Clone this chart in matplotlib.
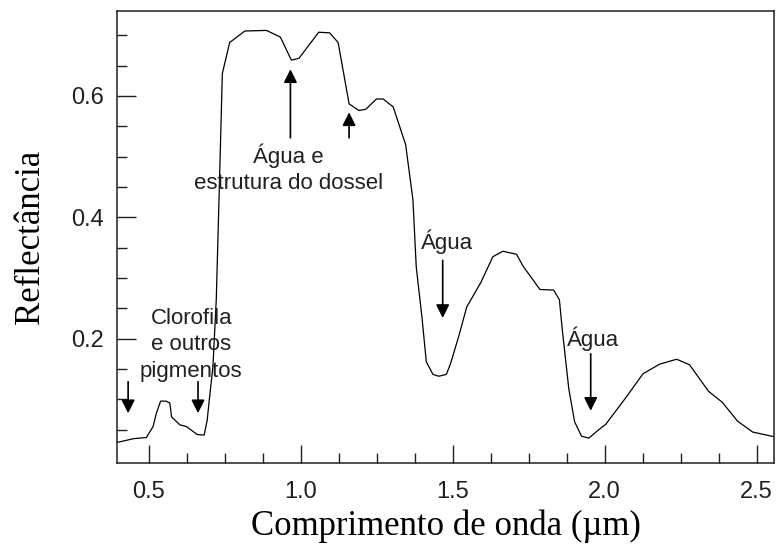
import matplotlib
matplotlib.use("Agg")
import matplotlib.pyplot as plt
import numpy as np

# reflectance curve
wavelength = [0.397, 0.449, 0.492, 0.514, 0.525, 0.539, 0.556, 0.569, 0.575, 0.602,
              0.624, 0.659, 0.682, 0.692, 0.698, 0.711, 0.722, 0.731, 0.742, 0.766,
              0.816, 0.887, 0.933, 0.969, 0.994, 1.059, 1.095, 1.123, 1.159, 1.191,
              1.214, 1.249, 1.271, 1.304, 1.345, 1.369, 1.380, 1.399, 1.413, 1.435,
              1.454, 1.479, 1.493, 1.521, 1.546, 1.593, 1.632, 1.665, 1.710, 1.732,
              1.787, 1.832, 1.851, 1.860, 1.882, 1.901, 1.924, 1.948, 1.976, 2.004,
              2.070, 2.126, 2.181, 2.237, 2.279, 2.342, 2.387, 2.437, 2.487, 2.560]
reflect = [0.029, 0.035, 0.037, 0.055, 0.077, 0.097, 0.097, 0.094, 0.071, 0.058,
           0.055, 0.042, 0.041, 0.065, 0.094, 0.154, 0.264, 0.429, 0.637, 0.688,
           0.707, 0.708, 0.697, 0.659, 0.662, 0.705, 0.704, 0.688, 0.587, 0.576,
           0.578, 0.595, 0.595, 0.582, 0.520, 0.429, 0.318, 0.234, 0.162, 0.141,
           0.138, 0.141, 0.159, 0.206, 0.252, 0.293, 0.335, 0.344, 0.339, 0.319,
           0.281, 0.280, 0.264, 0.217, 0.117, 0.063, 0.039, 0.036, 0.048, 0.059,
           0.103, 0.142, 0.158, 0.166, 0.157, 0.113, 0.095, 0.064, 0.046, 0.038]

x_major = [0.5, 1.0, 1.5, 2.0, 2.5]
x_labels = ["0.5", "1.0", "1.5", "2.0", "2.5"]
y_major = [0.2, 0.4, 0.6]
y_labels = ["0.2", "0.4", "0.6"]

# annotations: text, text position, arrow start, arrow end
notes = [
    ("Clorofila\ne outros\npigmentos", (0.640, 0.190), None, None),
    ("", None, (0.432, 0.129), (0.432, 0.077)),
    ("", None, (0.662, 0.129), (0.662, 0.077)),
    ("Água e\nestrutura do dossel", (0.960, 0.480), (0.966, 0.531), (0.966, 0.644)),
    ("", None, (1.159, 0.531), (1.159, 0.573)),
    ("Água", (1.481, 0.360), (1.467, 0.329), (1.467, 0.234)),
    ("Água", (1.963, 0.200), (1.954, 0.175), (1.954, 0.081)),
]

spine_col = "#231f20"

fig = plt.figure(figsize=(7.76, 5.5), dpi=100)
ax = fig.add_axes([0.1514, 0.1582, 0.846, 0.8218])

ax.plot(wavelength, reflect, color="black", lw=0.9)

ax.set_xlim(0.397, 2.557)
ax.set_ylim(-0.005, 0.74)

ax.set_xticks(x_major)
ax.set_xticklabels(x_labels)
ax.set_xticks([v for v in np.arange(0.625, 2.5, 0.125) if v not in x_major], minor=True)
ax.set_yticks(y_major)
ax.set_yticklabels(y_labels)
ax.set_yticks([round(v, 2) for v in np.arange(0.05, 0.73, 0.05) if round(v, 2) not in y_major], minor=True)

tick_font = ["Liberation Sans Narrow", "Liberation Sans", "DejaVu Sans"]
ax.tick_params(which="major", direction="in", length=14, width=1.0, color=spine_col, pad=10)
ax.tick_params(which="minor", direction="in", length=7, width=1.0, color=spine_col)
ax.tick_params(axis="x", which="major", length=13, pad=13)
for lab in ax.get_xticklabels() + ax.get_yticklabels():
    lab.set_family(tick_font)
    lab.set_fontsize(17)
    lab.set_color("#231f20")

for s in ax.spines.values():
    s.set_linewidth(1.1)
    s.set_color(spine_col)

ax.set_xlabel("Comprimento de onda (µm)", family="Liberation Serif", fontsize=25, labelpad=5)
ax.set_ylabel("Reflectância", family="Liberation Serif", fontsize=25, labelpad=17)

for text, tpos, a0, a1 in notes:
    if text:
        ax.text(tpos[0], tpos[1], text, ha="center", va="center", fontsize=16,
                family="Liberation Sans", color="#231f20", linespacing=1.35)
    if a0 is not None:
        ax.annotate("", xy=a1, xytext=a0,
                    arrowprops=dict(arrowstyle="-|>", color="black", lw=1.2,
                                    mutation_scale=20, shrinkA=0, shrinkB=0))

fig.savefig("out.png", dpi=100)
